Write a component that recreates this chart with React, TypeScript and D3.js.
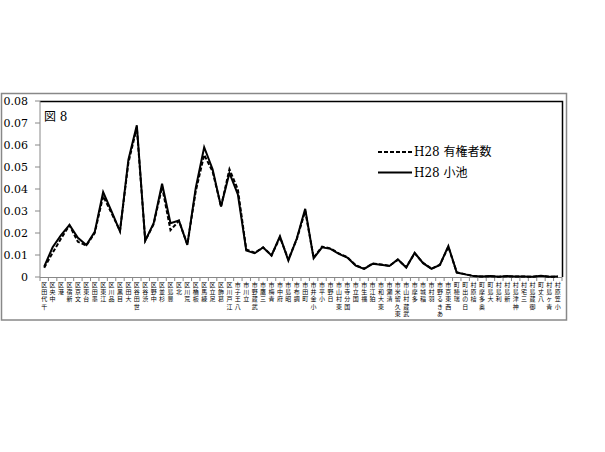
import React from "react";
import * as d3 from "d3";

const categories: string[] = [
  "千代田区", "中央区", "港区", "新宿区", "文京区", "台東区", "墨田区", "江東区", "品川区", "目黒区",
  "大田区", "世田谷区", "渋谷区", "中野区", "杉並区", "豊島区", "北区", "荒川区", "板橋区", "練馬区",
  "足立区", "葛飾区", "江戸川区", "八王子市", "立川市", "武蔵野市", "三鷹市", "青梅市", "府中市", "昭島市",
  "調布市", "町田市", "小金井市", "小平市", "日野市", "東村山市", "国分寺市", "国立市", "福生市", "狛江市",
  "東大和市", "清瀬市", "東久留米市", "武蔵村山市", "多摩市", "稲城市", "羽村市", "あきる野市", "西東京市", "瑞穂町",
  "日の出町", "檜原村", "奥多摩町", "大島町", "利島村", "新島村", "神津島村", "三宅村", "御蔵島村", "八丈町",
  "青ヶ島村", "小笠原村",
];

// H28 有権者数 (dashed)
const voters: number[] = [
  0.0042, 0.011, 0.0175, 0.0235, 0.016, 0.0143, 0.02, 0.0368, 0.029, 0.021,
  0.052, 0.068, 0.0165, 0.024, 0.041, 0.0213, 0.0255, 0.0148, 0.039, 0.0555,
  0.048, 0.032, 0.049, 0.0398, 0.0125, 0.011, 0.0135, 0.0098, 0.018, 0.008,
  0.0172, 0.030, 0.0088, 0.0138, 0.013, 0.0107, 0.009, 0.0053, 0.0038, 0.0061,
  0.0057, 0.0051, 0.0078, 0.0045, 0.0108, 0.0064, 0.0038, 0.0056, 0.0137, 0.0021,
  0.0013, 0.0004, 0.0002, 0.0004, 0.0001, 0.0004, 0.0002, 0.0002, 0.0001, 0.0005,
  0.0001, 0.0002,
];

// H28 小池 (solid)
const koike: number[] = [
  0.0047, 0.0135, 0.019, 0.0237, 0.0178, 0.0145, 0.0205, 0.0386, 0.0298, 0.0207,
  0.0533, 0.069, 0.0165, 0.0245, 0.0424, 0.0245, 0.0257, 0.0146, 0.0405, 0.059,
  0.049, 0.032, 0.0473, 0.0376, 0.012, 0.0108, 0.0134, 0.0098, 0.0185, 0.0075,
  0.0175, 0.031, 0.0085, 0.0135, 0.0128, 0.0105, 0.0088, 0.0052, 0.0037, 0.006,
  0.0056, 0.005, 0.008, 0.0043, 0.011, 0.0063, 0.0037, 0.0055, 0.0141, 0.002,
  0.0012, 0.0004, 0.0002, 0.0005, 0.0001, 0.0004, 0.0002, 0.0002, 0.0001, 0.0006,
  0.0001, 0.0002,
];

const yTicks: number[] = [0, 0.01, 0.02, 0.03, 0.04, 0.05, 0.06, 0.07, 0.08];
const seriesNames: string[] = ["H28 有権者数", "H28 小池"];
const figureLabel = "図 8";

export default function App() {
  const left = 40, right = 562, top = 101, bottom = 277;
  const x = d3.scaleBand<string>().domain(categories).range([left, right]).padding(0);
  const y = d3.scaleLinear().domain([0, 0.08]).range([bottom, top]);
  const cx = (i: number) => (x(categories[i]) as number) + x.bandwidth() / 2;
  const line = d3.line<number>().x((_, i) => cx(i)).y((d) => y(d));
  const serif = "'DejaVu Serif', 'Noto Sans CJK JP', serif";
  const cjk = "'Noto Sans CJK JP', sans-serif";

  return (
    <svg width={605} height={452} style={{ position: "absolute", left: 0, top: 0, background: "#fff" }}>
      <rect x={0} y={0} width={605} height={452} fill="#fff" />
      {/* outer chart frame */}
      <rect x={1.5} y={93.5} width={565} height={226.5} fill="none" stroke="#888" strokeWidth={1.5} />
      {/* plot border top/right */}
      <path d={`M${left},${top + 0.5}H${right + 0.5}V${bottom}`} fill="none" stroke="#000" strokeWidth={1.5} />
      {/* y axis */}
      <line x1={left} x2={left} y1={top} y2={bottom} stroke="#888" strokeWidth={1} />
      {yTicks.map((t) => (
        <g key={t}>
          <line x1={left - 5} x2={left} y1={y(t)} y2={y(t)} stroke="#888" />
          <text x={28} y={y(t) + 4} textAnchor="end" fontFamily={serif} fontSize={11} fill="#000">
            {t === 0 ? "0" : t.toFixed(2)}
          </text>
        </g>
      ))}
      {/* x axis */}
      <line x1={left} x2={right} y1={bottom + 0.5} y2={bottom + 0.5} stroke="#888" />
      {d3.range(categories.length + 1).map((i) => {
        const xx = left + i * x.step();
        return <line key={i} x1={xx} x2={xx} y1={bottom} y2={bottom + 4} stroke="#888" />;
      })}
      {categories.map((c, i) => {
        const chars = Array.from(c).reverse();
        return (
          <g key={c}>
            {chars.map((ch, k) => (
              <text
                key={k}
                x={cx(i)}
                y={287 + k * 7.2}
                fontFamily={cjk}
                fontSize={6}
                fill="#000"
                textAnchor="middle"
              >
                {ch}
              </text>
            ))}
          </g>
        );
      })}
      {/* lines */}
      <path d={line(voters) as string} fill="none" stroke="#000" strokeWidth={2} strokeDasharray="4,2" />
      <path d={line(koike) as string} fill="none" stroke="#000" strokeWidth={2} />
      {/* figure label */}
      <text x={44} y={121} fontFamily={serif} fontSize={12} fill="#000">
        {figureLabel}
      </text>
      {/* legend */}
      <line x1={378} x2={412} y1={152} y2={152} stroke="#000" strokeWidth={2} strokeDasharray="4,2" />
      <text x={414} y={156} fontFamily={serif} fontSize={12} fill="#000">{seriesNames[0]}</text>
      <line x1={378} x2={412} y1={172.5} y2={172.5} stroke="#000" strokeWidth={2} />
      <text x={414} y={176.5} fontFamily={serif} fontSize={12} fill="#000">{seriesNames[1]}</text>
    </svg>
  );
}
